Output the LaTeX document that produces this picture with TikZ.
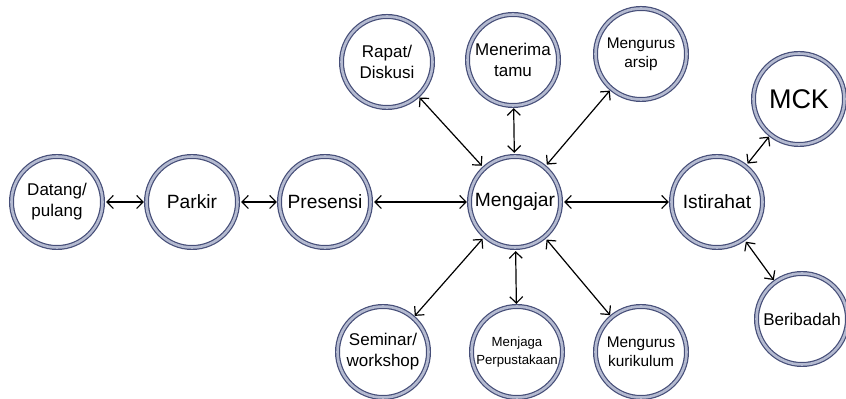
\documentclass[tikz,border=0pt]{standalone}
\usepackage{fontspec}
\setmainfont{Liberation Sans}
\usetikzlibrary{arrows.meta}
\definecolor{ringdark}{RGB}{70,78,120}
\definecolor{ringlight}{RGB}{180,186,208}

\begin{document}
\begin{tikzpicture}[x=0.5pt,y=-0.5pt]
	\tikzstyle{every node}=[circle,draw=ringdark,double=ringlight,double distance=1.3pt,line width=0.6pt,minimum size=45.5pt,inner sep=0pt,align=center]
	\tikzstyle{big}=[font=\fontsize{9.6}{11.5}\selectfont]
	\tikzstyle{mid}=[font=\fontsize{8.5}{10.6}\selectfont]
	\tikzstyle{small}=[font=\fontsize{7.7}{9.6}\selectfont]
	\tikzstyle{tiny}=[font=\fontsize{6.6}{8.6}\selectfont]
	\tikzstyle{link}=[{Straight Barb[length=3.2pt,width=6.5pt]}-{Straight Barb[length=3.2pt,width=6.5pt]},line width=0.6pt,shorten <=1.5pt,shorten >=1pt]
	\useasboundingbox (0,0) rectangle (846,399);
	\node[big] (mengajar) at (515,202) {Mengajar};
	\node[mid] (datang) at (57,202) {Datang/\\pulang};
	\node[big] (parkir) at (192,202) {Parkir};
	\node[big] (presensi) at (325,202) {Presensi};
	\node[big] (istirahat) at (717,202) {Istirahat};
	\node[font=\fontsize{13.5}{15}\selectfont] (mck) at (799,99) {MCK};
	\node[mid] (beribadah) at (802,319) {Beribadah};
	% atas
	\node[mid] (rapat) at (387,62) {Rapat/\\Diskusi};
	\node[mid] (tamu) at (513,60) {Menerima\\tamu};
	\node[small] (arsip) at (641,54) {Mengurus\\arsip};
	% bawah
	\node[mid] (seminar) at (383,352) {Seminar/\\workshop};
	\node[tiny] (pustaka) at (517,352) {Menjaga\\Perpustakaan};
	\node[small] (kurikulum) at (641,352) {Mengurus\\kurikulum};

	\draw[link] (datang) -- (parkir);
	\draw[link] (parkir) -- (presensi);
	\draw[link] (presensi) -- (mengajar);
	\draw[link] (mengajar) -- (istirahat);
	\draw[link] (istirahat) -- (mck);
	\draw[link] (istirahat) -- (beribadah);
	\draw[link] (mengajar) -- (rapat);
	\draw[link] (mengajar) -- (tamu);
	\draw[link] (mengajar) -- (arsip);
	\draw[link] (mengajar) -- (seminar);
	\draw[link] (mengajar) -- (pustaka);
	\draw[link] (mengajar) -- (kurikulum);
\end{tikzpicture}
\end{document}
